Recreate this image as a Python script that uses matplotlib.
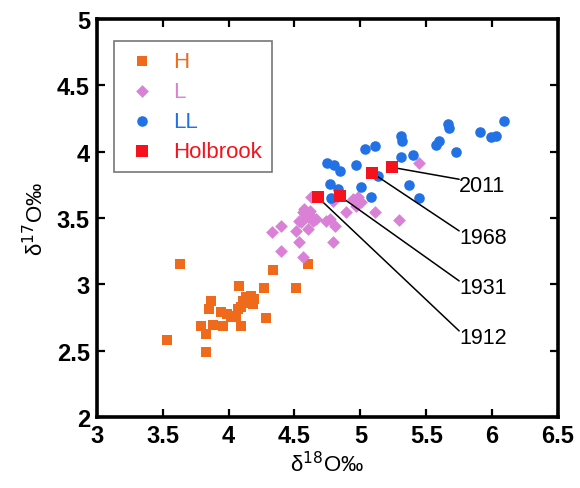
import matplotlib
matplotlib.use("Agg")
import matplotlib.pyplot as plt

plt.rcParams['font.family'] = ['Liberation Sans', 'DejaVu Sans']

# H chondrites
h_x = [3.632, 3.533, 3.829, 3.791, 3.829, 3.879, 3.955, 3.867, 3.849, 3.943, 4.019, 4.057,
       4.082, 4.095, 4.107, 4.133, 4.171, 4.196, 4.183, 4.095, 4.069, 4.272, 4.285, 4.340,
       4.512, 4.601, 3.99, 4.12]
h_y = [3.154, 2.583, 2.493, 2.684, 2.626, 2.694, 2.689, 2.877, 2.815, 2.790, 2.752, 2.764,
       2.990, 2.689, 2.877, 2.903, 2.915, 2.890, 2.852, 2.827, 2.815, 2.970, 2.749, 3.111,
       2.970, 3.154, 2.78, 2.86]

# L chondrites
l_x = [4.328, 4.399, 4.399, 4.538, 4.568, 4.513, 4.538, 4.563, 4.576, 4.601, 4.627, 4.639,
       4.601, 4.665, 4.627, 4.741, 4.766, 4.804, 4.791, 4.892, 4.943, 4.981, 5.006, 4.968,
       5.108, 5.292, 5.442, 4.791, 4.58, 4.62, 4.55]
l_y = [3.393, 3.443, 3.250, 3.318, 3.205, 3.406, 3.481, 3.544, 3.569, 3.506, 3.519, 3.481,
       3.418, 3.494, 3.657, 3.481, 3.494, 3.443, 3.318, 3.544, 3.644, 3.657, 3.619, 3.594,
       3.544, 3.486, 3.913, 3.632, 3.53, 3.55, 3.47]

# LL chondrites
ll_x = [4.748, 4.799, 4.847, 4.766, 4.829, 4.968, 5.006, 5.032, 5.113, 5.082, 5.133, 5.310,
        5.318, 5.310, 5.399, 5.373, 5.442, 5.576, 5.596, 5.665, 5.672, 5.723, 5.910, 5.994,
        6.027, 6.090, 4.778]
ll_y = [3.913, 3.903, 3.853, 3.757, 3.720, 3.903, 3.737, 4.021, 4.046, 3.657, 3.820, 4.121,
        4.084, 3.958, 3.978, 3.750, 3.649, 4.053, 4.084, 4.209, 4.177, 4.001, 4.146, 4.109,
        4.116, 4.234, 3.652]

# Holbrook samples
hb_years = ['1912', '1931', '1968', '2011']
hb_x = [4.677, 4.847, 5.090, 5.237]
hb_y = [3.657, 3.664, 3.840, 3.883]
label_x = [5.75, 5.75, 5.75, 5.75]
label_y = [2.602, 2.979, 3.356, 3.745]

c_h = '#F06A1C'
c_l = '#DA80D6'
c_ll = '#2272E6'
c_hb = '#F5121C'

fig = plt.figure(figsize=(5.8, 4.89), dpi=100)
ax = fig.add_axes([0.167, 0.145, 0.795, 0.814])

ax.scatter(h_x, h_y, marker='s', s=52, color=c_h, linewidths=0, label='H', zorder=3)
ax.scatter(l_x, l_y, marker='D', s=42, color=c_l, linewidths=0, label='L', zorder=3)
ax.scatter(ll_x, ll_y, marker='o', s=58, color=c_ll, linewidths=0, label='LL', zorder=3)

for yr, x0, y0, tx, ty in zip(hb_years, hb_x, hb_y, label_x, label_y):
    ax.annotate(yr, xy=(x0, y0), xytext=(tx, ty), ha='left', va='center', fontsize=15.5,
                arrowprops=dict(arrowstyle='-', color='black', lw=1.1, relpos=(0, 0.8),
                                shrinkA=0, shrinkB=0, patchA=None), zorder=4)

ax.scatter(hb_x, hb_y, marker='s', s=85, color=c_hb, linewidths=0, label='Holbrook', zorder=5)

ax.set_xlim(3, 6.5)
ax.set_ylim(2, 5)
ax.set_xticks([3, 3.5, 4, 4.5, 5, 5.5, 6, 6.5])
ax.set_yticks([2, 2.5, 3, 3.5, 4, 4.5, 5])
ax.set_xticklabels(['3', '3.5', '4', '4.5', '5', '5.5', '6', '6.5'])
ax.set_yticklabels(['2', '2.5', '3', '3.5', '4', '4.5', '5'])
ax.tick_params(direction='in', length=6, width=1.6, top=True, right=True, labelsize=17, pad=5)
for lab in ax.get_xticklabels() + ax.get_yticklabels():
    lab.set_fontweight('bold')
for sp in ax.spines.values():
    sp.set_linewidth(2.6)

ax.set_xlabel('δ$^{18}$O‰', fontsize=16, labelpad=3)
ax.set_ylabel('δ$^{17}$O‰', fontsize=16, labelpad=6)

leg = ax.legend(loc='upper left', bbox_to_anchor=(0.037, 0.945), fontsize=16, frameon=True,
                fancybox=False, borderpad=0.45, labelspacing=0.4, handletextpad=0.6,
                handlelength=1.6, borderaxespad=0)
leg.get_frame().set_edgecolor('#555555')
leg.get_frame().set_linewidth(1.2)
for txt, col in zip(leg.get_texts(), [c_h, c_l, c_ll, c_hb]):
    txt.set_color(col)

fig.savefig('out.png', dpi=100)
